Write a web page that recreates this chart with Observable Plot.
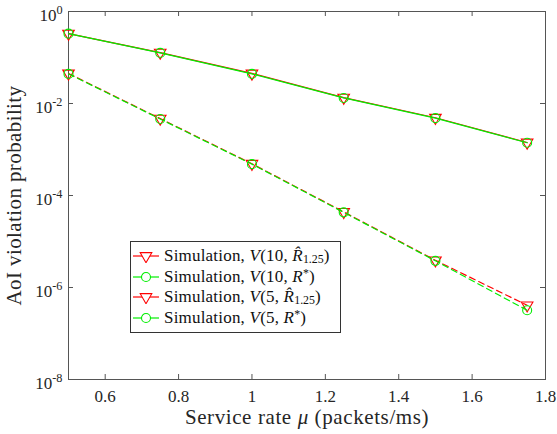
<!DOCTYPE html>
<html><head><meta charset="utf-8">
<script src="https://cdn.jsdelivr.net/npm/d3@7"></script>
<script src="https://cdn.jsdelivr.net/npm/@observablehq/plot@0.6"></script>
<style>
body{margin:0;background:#fff;}
#wrap{position:relative;width:557px;height:434px;font-family:"Liberation Serif","Times New Roman",serif;}
#wrap svg text{font-family:"Liberation Serif","Times New Roman",serif;}
#legend{position:absolute;left:130px;top:241px;width:211px;height:92px;box-sizing:border-box;border:1px solid #333;background:#fff;font-size:17px;color:#111;padding-top:4px;}
#legend .row{height:20.5px;display:flex;align-items:center;white-space:nowrap;letter-spacing:0.2px;}
#legend svg{flex:none;margin-left:2px;margin-right:5px;}
#legend sub{font-size:0.7em;vertical-align:-0.2em;letter-spacing:0;}
#legend sup{font-size:0.7em;vertical-align:0.45em;}
</style>
</head><body>
<div id="wrap"><div id="legend"></div></div>
<script>
const mu = [0.5, 0.75, 1.0, 1.25, 1.5, 1.75];
const v10Rhat  = [0.33, 0.128, 0.045, 0.0134, 0.0049, 0.00142];
const v10Rstar = [0.33, 0.126, 0.044, 0.0132, 0.0048, 0.00140];
const v5Rhat   = [0.045, 0.0047, 0.00049, 4.4e-5, 3.9e-6, 4.1e-7];
const v5Rstar  = [0.044, 0.0046, 0.00048, 4.3e-5, 3.8e-6, 3.2e-7];
const xTicks = [0.6, 0.8, 1, 1.2, 1.4, 1.6, 1.8];
const yTicks = [1, 1e-2, 1e-4, 1e-6, 1e-8];
const seriesLabels = [
  'Simulation, <i>V</i>(10, <i>R&#770;</i><sub>1.25</sub>)',
  'Simulation, <i>V</i>(10, <i>R</i><sup>*</sup>)',
  'Simulation, <i>V</i>(5, <i>R&#770;</i><sub>1.25</sub>)',
  'Simulation, <i>V</i>(5, <i>R</i><sup>*</sup>)'
];
const RED = "#ff0000", GREEN = "#00ee00";
const series = [
  {vals: v10Rhat, color: RED, sym: "tri", dash: null},
  {vals: v10Rstar, color: GREEN, sym: "circ", dash: null},
  {vals: v5Rhat, color: RED, sym: "tri", dash: "6,4"},
  {vals: v5Rstar, color: GREEN, sym: "circ", dash: "6,4"}
];
const rows = ys => mu.map((x, i) => ({x, y: ys[i]}));
const W = 557, H = 434, mL = 68, mR = 12, mT = 11, mB = 55;
const pw = W - mL - mR, ph = H - mT - mB, tk = 5, AX = "#555";
const FONT = "'Liberation Serif', 'Times New Roman', serif";

const marks = [
  Plot.frame({stroke: AX}),
  Plot.axisX(xTicks, {tickSize: 0, tickPadding: 10, tickFormat: d => String(d), label: "Service rate mu (packets/ms)", labelAnchor: "center", labelOffset: 44, fontSize: 17}),
  Plot.axisY(yTicks, {tickSize: 0, tickPadding: 6, tickFormat: d => "10^" + Math.round(Math.log10(d)), label: "AoI violation probability", labelAnchor: "center", labelOffset: 62, fontSize: 17}),
  Plot.tickX(xTicks, {x: d => d, insetTop: ph - tk, stroke: AX}),
  Plot.tickX(xTicks, {x: d => d, insetBottom: ph - tk, stroke: AX}),
  Plot.tickY(yTicks, {y: d => d, insetRight: pw - tk, stroke: AX}),
  Plot.tickY(yTicks, {y: d => d, insetLeft: pw - tk, stroke: AX})
];
for (const s of series) {
  const data = rows(s.vals);
  marks.push(Plot.line(data, {x: "x", y: "y", stroke: s.color, strokeWidth: 1.2, strokeDasharray: s.dash || undefined}));
  if (s.sym === "tri") marks.push(Plot.dot(data, {x: "x", y: "y", symbol: "triangle", rotate: 180, r: 4.3, stroke: s.color, fill: "none", strokeWidth: 1.1}));
  else marks.push(Plot.dot(data, {x: "x", y: "y", symbol: "circle", r: 4.5, stroke: s.color, fill: "none", strokeWidth: 1.1}));
}

const chart = Plot.plot({
  width: W, height: H, marginLeft: mL, marginRight: mR, marginTop: mT, marginBottom: mB,
  style: `font-family: ${FONT}; font-size: 17px; color: #262626; background: white;`,
  x: {domain: [0.5, 1.8]},
  y: {type: "log", domain: [1e-8, 1]},
  marks
});
document.getElementById("wrap").prepend(chart);

const svg = d3.select(chart);
svg.selectAll("text").attr("font-family", FONT);
svg.selectAll('g[aria-label="y-axis tick label"] text').each(function () {
  const m = this.textContent.match(/^10\^(-?\d+)$/);
  if (!m) return;
  const s = d3.select(this); s.text("");
  s.append("tspan").attr("dy", "0.25em").text("10");
  s.append("tspan").attr("dy", "-0.6em").attr("font-size", "0.72em").text(m[1]);
});
svg.selectAll('g[aria-label="x-axis label"] text').each(function () {
  const s = d3.select(this); s.text("");
  s.append("tspan").text("Service rate ");
  s.append("tspan").attr("font-style", "italic").text("\u03bc");
  s.append("tspan").text(" (packets/ms)");
  s.attr("font-size", 21).attr("letter-spacing", 0.6);
});
svg.selectAll('g[aria-label="y-axis label"] text').each(function () {
  d3.select(this).text("AoI violation probability").attr("font-size", 21).attr("letter-spacing", 0.4);
});

const leg = d3.select("#legend");
series.forEach((s, i) => {
  const row = leg.append("div").attr("class", "row");
  const sv = row.append("svg").attr("width", 26).attr("height", 14);
  sv.append("line").attr("x1", 0).attr("x2", 26).attr("y1", 7).attr("y2", 7).attr("stroke", s.color).attr("stroke-width", 1.2);
  if (s.sym === "tri") sv.append("path").attr("d", d3.symbol(d3.symbolTriangle, Math.PI * 4.3 * 4.3)()).attr("transform", "translate(13,7) rotate(180)").attr("fill", "white").attr("stroke", s.color).attr("stroke-width", 1.1);
  else sv.append("circle").attr("cx", 13).attr("cy", 7).attr("r", 4.5).attr("fill", "white").attr("stroke", s.color).attr("stroke-width", 1.1);
  row.append("span").html(seriesLabels[i]);
});
</script>
</body></html>
